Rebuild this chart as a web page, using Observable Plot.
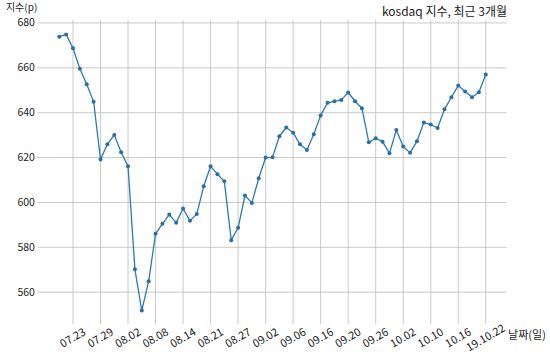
<!DOCTYPE html>
<html><head><meta charset="utf-8">
<script src="https://cdn.jsdelivr.net/npm/d3@7"></script>
<script src="https://cdn.jsdelivr.net/npm/@observablehq/plot@0.6"></script>
<style>body{margin:0;background:#fff}</style>
</head><body><div id="chart"></div>
<script>
const dates = ["07.19","07.22","07.23","07.24","07.25","07.26","07.29","07.30","07.31",
  "08.01","08.02","08.05","08.06","08.07","08.08","08.09","08.12","08.13","08.14","08.16",
  "08.19","08.20","08.21","08.22","08.23","08.26","08.27","08.28","08.29","08.30",
  "09.02","09.03","09.04","09.05","09.06","09.09","09.10","09.11","09.16","09.17","09.18",
  "09.19","09.20","09.23","09.24","09.25","09.26","09.27","09.30",
  "10.01","10.02","10.04","10.07","10.08","10.10","10.11","10.14","10.15","10.16","10.17",
  "10.18","10.21","10.22"];
const values = [673.9,674.9,668.7,659.6,652.7,644.9,619.2,625.9,630.1,
  622.4,616.1,570.2,551.8,564.9,586.0,590.5,594.6,591.0,597.3,591.8,
  594.9,607.2,616.1,612.6,609.4,583.2,588.7,603.1,599.8,610.8,
  620.0,620.1,629.5,633.4,631.1,625.9,623.4,630.4,638.8,644.4,645.1,
  645.7,649.0,645.1,642.0,626.8,628.6,627.1,621.9,
  632.3,624.9,622.1,627.3,635.6,634.7,633.2,641.5,646.9,652.1,649.5,
  646.9,649.1,657.0];
const xTicks = ["07.23","07.29","08.02","08.08","08.14","08.21","08.27","09.02",
  "09.06","09.16","09.20","09.26","10.02","10.10","10.16","10.22"];
const xTickLabels = ["07.23","07.29","08.02","08.08","08.14","08.21","08.27","09.02",
  "09.06","09.16","09.20","09.26","10.02","10.10","10.16","19.10.22"];
const yTicks = [560,580,600,620,640,660,680];
const title = "kosdaq 지수, 최근 3개월";
const yLabel = "지수(p)";
const xLabel = "날짜(일)";

const data = dates.map((d, i) => ({i, date: d, value: values[i]}));
const tickIdx = xTicks.map(t => dates.indexOf(t));
const font = "'Noto Sans CJK KR', 'Noto Sans', sans-serif";
const grid = "#bcbcbc";
const chart = Plot.plot({
  width: 550, height: 359,
  marginLeft: 37.4, marginRight: 43.4, marginTop: 20, marginBottom: 35,
  style: {fontFamily: font, fontSize: "11px", color: "#222", background: "#fff"},
  x: {domain: [-3.1, 65.1], axis: null},
  y: {domain: [545.6, 681.1], axis: null},
  marks: [
    Plot.ruleX(tickIdx, {x: d => d, stroke: grid, strokeWidth: 0.8}),
    Plot.ruleY(yTicks, {y: d => d, stroke: grid, strokeWidth: 0.8}),
    Plot.text(yTicks, {y: d => d, text: d => String(d), frameAnchor: "left", lineAnchor: "middle", dx: -3, textAnchor: "end", fill: "#222", fontSize: 10.5}),
    Plot.text(tickIdx, {x: d => d, text: (d, i) => xTickLabels[i], frameAnchor: "bottom", lineAnchor: "middle", dy: 13.5, rotate: -30, fill: "#222", fontSize: 11}),
    Plot.line(data, {x: "i", y: "value", stroke: "#2a7ab3", strokeWidth: 1.3}),
    Plot.dot(data, {x: "i", y: "value", r: 2, fill: "#2a6ea3", stroke: "none"}),
    Plot.text([title], {text: d => d, frameAnchor: "top-right", lineAnchor: "middle", dy: -8, textAnchor: "end", fontSize: 12, fill: "#222"}),
    Plot.text([yLabel], {text: d => d, frameAnchor: "top-left", lineAnchor: "middle", dx: -32, dy: -12.5, textAnchor: "start", fontSize: 10, fill: "#222"}),
    Plot.text([xLabel], {text: d => d, frameAnchor: "bottom-right", lineAnchor: "middle", dx: 1, dy: 11, textAnchor: "start", fontSize: 11, fill: "#222"})
  ]
});
document.getElementById("chart").append(chart);
</script>
</body></html>
